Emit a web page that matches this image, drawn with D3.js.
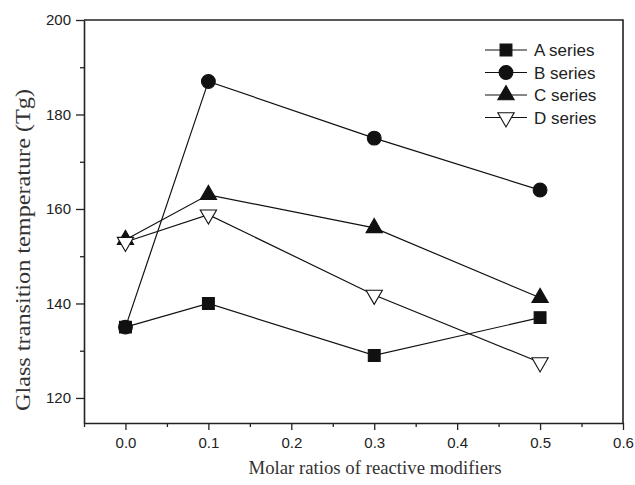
<!DOCTYPE html>
<html>
<head>
<meta charset="utf-8">
<script src="https://cdn.jsdelivr.net/npm/d3@7"></script>
<style>
  body { margin: 0; background: #fff; }
  .tick text { font-family: "Liberation Sans", Arial, sans-serif; font-size: 15px; fill: #222; }
</style>
</head>
<body>
<div id="chart"></div>
<script>
// data
var ratios = [0.0, 0.1, 0.3, 0.5];
var seriesNames = ["A series", "B series", "C series", "D series"];
var aValues = [135, 140, 129, 137];
var bValues = [135, 187, 175, 164];
var cValues = [153.5, 163, 156, 141.2];
var dValues = [153, 158.8, 141.8, 127.5];
var xTicks = [0.0, 0.1, 0.2, 0.3, 0.4, 0.5, 0.6];
var yTicks = [120, 140, 160, 180, 200];

var width = 635,
    height = 485,
    margin = {top: 20, right: 12, bottom: 62, left: 84};

var svg = d3.select("#chart").append("svg")
    .attr("width", width)
    .attr("height", height);

var x = d3.scaleLinear().domain([-0.05, 0.6]).range([margin.left, width - margin.right]);
var y = d3.scaleLinear().domain([114.7, 200]).range([height - margin.bottom, margin.top]);

// minor ticks
var xMinor = d3.range(-0.05, 0.6, 0.1).map(function(d) { return +d.toFixed(2); });
var yMinor = [130, 150, 170, 190];

svg.append("g")
    .attr("transform", "translate(0," + (height - margin.bottom) + ")")
    .call(d3.axisBottom(x).tickValues(xMinor).tickSize(4).tickFormat(""))
    .call(function(g) { g.select(".domain").remove(); })
    .selectAll("line").attr("stroke-width", 1.3).attr("stroke", "#222");

svg.append("g")
    .attr("transform", "translate(" + margin.left + ",0)")
    .call(d3.axisLeft(y).tickValues(yMinor).tickSize(4).tickFormat(""))
    .call(function(g) { g.select(".domain").remove(); })
    .selectAll("line").attr("stroke-width", 1.3).attr("stroke", "#222");

// major axes
var xAxis = svg.append("g")
    .attr("transform", "translate(0," + (height - margin.bottom) + ")")
    .call(d3.axisBottom(x).tickValues(xTicks).tickSize(7).tickSizeOuter(0).tickPadding(7)
      .tickFormat(d3.format(".1f")));

var yAxis = svg.append("g")
    .attr("transform", "translate(" + margin.left + ",0)")
    .call(d3.axisLeft(y).tickValues(yTicks).tickSize(8).tickSizeOuter(0).tickPadding(5));

[xAxis, yAxis].forEach(function(ax) {
  ax.selectAll("line").attr("stroke", "#222").attr("stroke-width", 1.3);
  ax.select(".domain").attr("stroke", "#222").attr("stroke-width", 1.6);
});

// top and right frame
svg.append("path")
    .attr("d", "M" + margin.left + "," + margin.top + "H" + (width - margin.right) + "V" + (height - margin.bottom))
    .attr("fill", "none")
    .attr("stroke", "#222")
    .attr("stroke-width", 1.6);

// axis titles
svg.append("text")
    .attr("x", 375)
    .attr("y", 474)
    .attr("text-anchor", "middle")
    .attr("textLength", 253)
    .attr("lengthAdjust", "spacingAndGlyphs")
    .style("font-family", "'Liberation Serif', 'Times New Roman', serif")
    .style("font-size", "19px")
    .attr("fill", "#333")
    .text("Molar ratios of reactive modifiers");

svg.append("text")
    .attr("transform", "translate(30,250) rotate(-90)")
    .attr("text-anchor", "middle")
    .attr("textLength", 322)
    .attr("lengthAdjust", "spacingAndGlyphs")
    .style("font-family", "'Liberation Serif', 'Times New Roman', serif")
    .style("font-size", "20px")
    .attr("fill", "#333")
    .text("Glass transition temperature (Tg)");

var series = [
  {name: seriesNames[0], values: aValues, symbol: d3.symbolSquare, size: 140, fill: "#111"},
  {name: seriesNames[1], values: bValues, symbol: d3.symbolCircle, size: 150, fill: "#111"},
  {name: seriesNames[2], values: cValues, symbol: d3.symbolTriangle, size: 115, fill: "#111"},
  {name: seriesNames[3], values: dValues, symbol: d3.symbolTriangle, size: 115, fill: "#fff", flip: true}
];

var line = d3.line()
    .x(function(d) { return x(d[0]); })
    .y(function(d) { return y(d[1]); });

var drawSymbol = function(g, s, px, py) {
  g.append("path")
      .attr("d", d3.symbol().type(s.symbol).size(s.size))
      .attr("transform", "translate(" + px + "," + py + ")" + (s.flip ? " rotate(180)" : ""))
      .attr("fill", s.fill)
      .attr("stroke", "#111")
      .attr("stroke-width", 1.1);
};

series.forEach(function(s) {
  var pts = ratios.map(function(r, i) { return [r, s.values[i]]; });
  svg.append("path")
      .datum(pts)
      .attr("d", line)
      .attr("fill", "none")
      .attr("stroke", "#111")
      .attr("stroke-width", 1.2);
});

series.forEach(function(s) {
  var g = svg.append("g");
  ratios.forEach(function(r, i) {
    drawSymbol(g, s, x(r), y(s.values[i]));
  });
});

// legend
var legend = svg.append("g");
series.forEach(function(s, i) {
  var ly = 50 + i * 22.5;
  legend.append("line")
      .attr("x1", 485).attr("x2", 527)
      .attr("y1", ly).attr("y2", ly)
      .attr("stroke", "#111").attr("stroke-width", 1.2);
  drawSymbol(legend, s, 506, ly);
  legend.append("text")
      .attr("x", 534).attr("y", ly + 6)
      .style("font-family", "'Liberation Sans', Arial, sans-serif")
      .style("font-size", "17px")
      .attr("fill", "#222")
      .text(s.name);
});
</script>
</body>
</html>
